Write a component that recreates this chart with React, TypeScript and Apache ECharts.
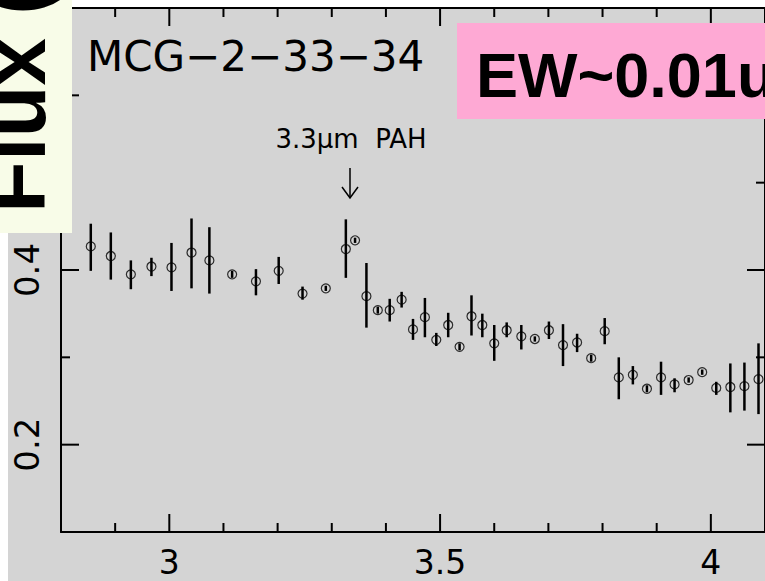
import React, { useEffect, useRef } from "react";
import * as echarts from "echarts";

// Wavelength (µm)
const wavelength = [
  2.855, 2.892, 2.929, 2.967, 3.004, 3.041, 3.074, 3.116, 3.160, 3.202,
  3.246, 3.289, 3.326, 3.343, 3.364, 3.385, 3.407, 3.429, 3.450, 3.472,
  3.493, 3.515, 3.536, 3.558, 3.578, 3.600, 3.623, 3.650, 3.675, 3.701,
  3.727, 3.753, 3.779, 3.804, 3.830, 3.856, 3.882, 3.908, 3.933, 3.959,
  3.984, 4.010, 4.036, 4.062, 4.088,
];
// Flux values
const flux = [
  0.427, 0.416, 0.395, 0.404, 0.403, 0.420, 0.411, 0.395, 0.387, 0.399,
  0.373, 0.379, 0.424, 0.434, 0.370, 0.354, 0.354, 0.366, 0.332, 0.346,
  0.320, 0.337, 0.312, 0.347, 0.337, 0.316, 0.331, 0.324, 0.321, 0.331,
  0.314, 0.317, 0.299, 0.330, 0.277, 0.280, 0.264, 0.277, 0.269, 0.274,
  0.283, 0.265, 0.266, 0.267, 0.275,
];
// Error bar lower ends
const fluxLow = [
  0.399, 0.389, 0.378, 0.393, 0.376, 0.379, 0.373, 0.391, 0.371, 0.384,
  0.366, 0.376, 0.391, 0.431, 0.334, 0.350, 0.341, 0.357, 0.320, 0.323,
  0.313, 0.323, 0.308, 0.325, 0.323, 0.296, 0.323, 0.309, 0.318, 0.321,
  0.290, 0.306, 0.295, 0.315, 0.252, 0.269, 0.260, 0.257, 0.260, 0.271,
  0.280, 0.257, 0.237, 0.239, 0.235,
];
// Error bar upper ends
const fluxHigh = [
  0.453, 0.443, 0.411, 0.414, 0.431, 0.459, 0.449, 0.399, 0.401, 0.415,
  0.381, 0.382, 0.458, 0.437, 0.408, 0.358, 0.367, 0.375, 0.344, 0.368,
  0.328, 0.351, 0.316, 0.371, 0.350, 0.337, 0.340, 0.337, 0.324, 0.341,
  0.338, 0.327, 0.303, 0.345, 0.300, 0.290, 0.268, 0.295, 0.276, 0.277,
  0.286, 0.272, 0.293, 0.294, 0.316,
];

const xRange = [2.8, 4.1];
const yRange = [0.1, 0.7];
const xMajorTicks = [3, 3.5, 4];
const xMinorTicks = [2.9, 3.1, 3.2, 3.3, 3.4, 3.6, 3.7, 3.8, 3.9];
const yMajorTicks = [0.2, 0.4, 0.6];
const yMinorTicks = [0.3, 0.5];

const TICK_FONT = '"DejaVu Sans", sans-serif';
const MAJOR_LEN = 18;
const MINOR_LEN = 9;

export default function App() {
  const ref = useRef<HTMLDivElement>(null);

  useEffect(() => {
    if (!ref.current) return;
    const chart = echarts.init(ref.current, undefined, { renderer: "svg" });
    const points = wavelength.map((w, i) => [w, flux[i]]);
    const bars = wavelength.map((w, i) => [w, fluxLow[i], fluxHigh[i]]);

    chart.setOption({
      animation: false,
      backgroundColor: "transparent",
      grid: { left: 61, top: 8, right: -1, bottom: 49, containLabel: false },
      xAxis: {
        type: "value",
        min: xRange[0],
        max: xRange[1],
        axisLine: { show: true, onZero: false, lineStyle: { color: "#000", width: 2 } },
        axisTick: { show: false },
        axisLabel: {
          show: true,
          customValues: xMajorTicks,
          margin: 16,
          fontSize: 33,
          lineHeight: 28,
          color: "#000",
          fontFamily: TICK_FONT,
        },
        splitLine: { show: false },
      },
      yAxis: {
        type: "value",
        min: yRange[0],
        max: yRange[1],
        axisLine: { show: true, onZero: false, lineStyle: { color: "#000", width: 2 } },
        axisTick: { show: false },
        axisLabel: {
          show: true,
          customValues: yMajorTicks,
          rotate: 90,
          margin: 17,
          fontSize: 34,
          color: "#000",
          fontFamily: TICK_FONT,
        },
        splitLine: { show: false },
      },
      series: [
        {
          type: "custom",
          data: bars,
          encode: { x: 0, y: [1, 2] },
          renderItem: (params: any, api: any) => {
            const x = api.value(0);
            const p1 = api.coord([x, api.value(1)]);
            const p2 = api.coord([x, api.value(2)]);
            return {
              type: "line",
              shape: { x1: p1[0], y1: p1[1], x2: p2[0], y2: p2[1] },
              style: { stroke: "#000", lineWidth: 2.5 },
            };
          },
          z: 2,
        },
        {
          type: "scatter",
          data: points,
          symbol: "circle",
          symbolSize: 9,
          itemStyle: { color: "rgba(0,0,0,0)", borderColor: "#000", borderWidth: 1.2 },
          z: 3,
        },
      ],
    });

    // Frame and inward ticks, placed through the chart's own scales
    const toPx = (v: number[]) => chart.convertToPixel({ gridIndex: 0 }, v) as number[];
    const bl = toPx([xRange[0], yRange[0]]);
    const tr = toPx([xRange[1], yRange[1]]);
    const x0 = bl[0], y0 = bl[1], x1 = tr[0], y1 = tr[1];
    const tickStyle = { stroke: "#000000", lineWidth: 2 };
    const tickEls: any[] = [];
    const addX = (v: number, len: number) => {
      const px = toPx([v, yRange[0]])[0];
      tickEls.push({ type: "line", z: 40, shape: { x1: px, y1: y0, x2: px, y2: y0 - len }, style: tickStyle });
      tickEls.push({ type: "line", z: 40, shape: { x1: px, y1: y1, x2: px, y2: y1 + len }, style: tickStyle });
    };
    const addY = (v: number, len: number) => {
      const py = toPx([xRange[0], v])[1];
      tickEls.push({ type: "line", z: 40, shape: { x1: x0, y1: py, x2: x0 + len, y2: py }, style: tickStyle });
      tickEls.push({ type: "line", z: 40, shape: { x1: x1, y1: py, x2: x1 - len, y2: py }, style: tickStyle });
    };
    xMajorTicks.forEach((v) => addX(v, MAJOR_LEN));
    xMinorTicks.forEach((v) => addX(v, MINOR_LEN));
    yMajorTicks.forEach((v) => addY(v, MAJOR_LEN));
    yMinorTicks.forEach((v) => addY(v, MINOR_LEN));
    tickEls.push({
      type: "polyline",
      z: 40,
      shape: { points: [[x0, y1], [x1, y1], [x1, y0]] },
      style: { stroke: "#000000", lineWidth: 2, fill: null },
    });

    chart.setOption({
      graphic: [
        ...tickEls,
        {
          type: "text",
          x: 87,
          y: 56,
          z: 50,
          style: {
            text: "MCG\u22122\u221233\u221234",
            font: '42px "DejaVu Sans", sans-serif',
            fill: "#000",
            align: "left",
            verticalAlign: "middle",
          },
        },
        {
          type: "text",
          x: 351,
          y: 139,
          z: 50,
          style: {
            text: "3.3\u03bcm  PAH",
            font: '26px "DejaVu Sans", sans-serif',
            fill: "#000",
            align: "center",
            verticalAlign: "middle",
          },
        },
        {
          type: "line",
          z: 50,
          shape: { x1: 350, y1: 168, x2: 350, y2: 198 },
          style: { stroke: "#000", lineWidth: 1.5 },
        },
        {
          type: "polyline",
          z: 50,
          shape: { points: [[342, 187], [350, 198], [358, 187]] },
          style: { stroke: "#000", lineWidth: 1.5, fill: null },
        },
        {
          type: "rect",
          z: 100,
          shape: { x: 457, y: 23, width: 320, height: 96 },
          style: { fill: "#fea9d4" },
        },
        {
          type: "text",
          x: 476,
          y: 75,
          z: 101,
          style: {
            text: "EW~0.01u",
            font: 'bold 63px "Liberation Sans", Arial, sans-serif',
            fill: "#000",
            align: "left",
            verticalAlign: "middle",
          },
        },
        {
          type: "rect",
          z: 100,
          shape: { x: 0, y: 0, width: 72, height: 233 },
          style: { fill: "#f8fce8" },
        },
        {
          type: "text",
          x: 15,
          y: 213,
          rotation: Math.PI / 2,
          z: 101,
          style: {
            text: "Flux (",
            font: 'bold 85px "Liberation Sans", Arial, sans-serif',
            fill: "#000",
            align: "left",
            verticalAlign: "middle",
          },
        },
      ],
    });

    return () => chart.dispose();
  }, []);

  return (
    <div
      style={{
        position: "fixed",
        left: 0,
        top: 0,
        width: 765,
        height: 581,
        background: "#ffffff",
        overflow: "hidden",
      }}
    >
      <div
        style={{
          position: "absolute",
          left: 8,
          top: 8,
          right: 0,
          bottom: 0,
          background: "#d4d4d4",
        }}
      />
      <div
        ref={ref}
        style={{ position: "absolute", left: 0, top: 0, width: 765, height: 581 }}
      />
    </div>
  );
}
